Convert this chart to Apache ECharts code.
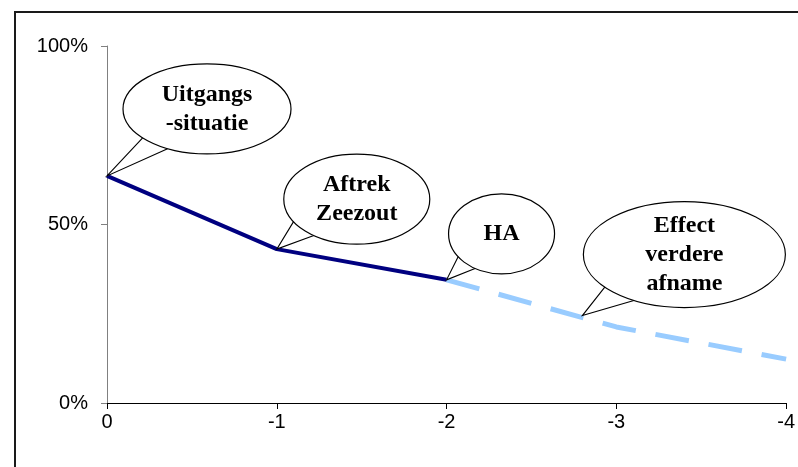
<!DOCTYPE html>
<html>
<head>
<meta charset="utf-8">
<script src="https://cdn.jsdelivr.net/npm/echarts@6/dist/echarts.min.js"></script>
<style>
  html, body { margin: 0; padding: 0; background: #fff; }
  #chart { width: 798px; height: 467px; }
</style>
</head>
<body>
<div id="chart"></div>
<script>
// Stap-categorieën op de x-as
const categories = ['0', '-1', '-2', '-3', '-4'];
// Gerealiseerd verloop (doorgetrokken lijn)
const realised = [0.636, 0.431, 0.345, null, null];
// Verwachte verdere afname (gestippelde lijn)
const projected = [null, null, 0.345, 0.213, 0.123];
// Ballonteksten met het punt waar het pijltje naar wijst (categorie-positie, waarde)
const calloutTexts = ['Uitgangs\n-situatie', 'Aftrek\nZeezout', 'HA', 'Effect\nverdere\nafname'];
const calloutTips = [[0, 0.636], [1, 0.431], [2, 0.345], [2.8, 0.245]];

const chart = echarts.init(document.getElementById('chart'));

chart.setOption({
  animation: false,
  backgroundColor: '#ffffff',
  grid: { left: 107, right: 9, top: 46, bottom: 64 },
  xAxis: {
    type: 'category',
    data: categories,
    boundaryGap: false,
    axisLine: { lineStyle: { color: '#000', width: 1 } },
    axisTick: { length: 6, lineStyle: { color: '#000' } },
    axisLabel: {
      margin: 9,
      color: '#000',
      fontFamily: 'Liberation Sans, Arial, sans-serif',
      fontSize: 20
    },
    splitLine: { show: false }
  },
  yAxis: {
    type: 'value',
    min: 0,
    max: 1,
    interval: 0.5,
    axisLine: { show: true, lineStyle: { color: '#808080', width: 1 } },
    axisTick: { show: true, length: 6, lineStyle: { color: '#808080' } },
    axisLabel: {
      margin: 19,
      color: '#000',
      fontFamily: 'Liberation Sans, Arial, sans-serif',
      fontSize: 20,
      formatter: v => Math.round(v * 100) + '%'
    },
    splitLine: { show: false }
  },
  series: [
    {
      type: 'line',
      data: realised,
      showSymbol: false,
      lineStyle: { color: '#000080', width: 4 },
      z: 3
    },
    {
      type: 'line',
      data: projected,
      showSymbol: false,
      lineStyle: { color: '#99ccff', width: 5, type: [34, 20] },
      z: 2
    }
  ]
});

// Ballonvorm: middelpunt t.o.v. de punt, stralen en hoeken van de aanhechting van het pijltje
const bubbleShapes = [
  { dx: 100, dy: -67, rx: 84, ry: 45, a1: 140, a2: 118 },
  { dx: 80, dy: -50, rx: 73, ry: 45, a1: 150, a2: 126 },
  { dx: 55, dy: -46, rx: 53, ry: 40, a1: 145, a2: 120 },
  { dx: 102, dy: -61, rx: 101, ry: 53, a1: 142, a2: 120 }
];

// Pixelpositie van een (mogelijk fractionele) categorie-positie
function tipPixel(d) {
  const i0 = Math.floor(d[0]);
  const f = d[0] - i0;
  const p0 = chart.convertToPixel({ gridIndex: 0 }, [i0, d[1]]);
  if (f === 0) return p0;
  const p1 = chart.convertToPixel({ gridIndex: 0 }, [i0 + 1, d[1]]);
  return [p0[0] + (p1[0] - p0[0]) * f, p0[1]];
}

function buildCallout(text, tipData, s) {
  const tip = tipPixel(tipData);
  const cx = tip[0] + s.dx, cy = tip[1] + s.dy;
  const onEllipse = deg => {
    const r = deg * Math.PI / 180;
    return [cx + s.rx * Math.cos(r), cy + s.ry * Math.sin(r)];
  };
  const b1 = onEllipse(s.a1), b2 = onEllipse(s.a2);
  const inner = [cx + (b1[0] + b2[0] - 2 * cx) * 0.7, cy + (b1[1] + b2[1] - 2 * cy) * 0.7];
  return {
    type: 'group',
    z: 50,
    children: [
      {
        type: 'ellipse',
        shape: { cx: cx, cy: cy, rx: s.rx, ry: s.ry },
        style: { fill: '#fff', stroke: '#000', lineWidth: 1.2 },
        z: 50
      },
      {
        type: 'polygon',
        shape: { points: [b1, tip, b2, inner] },
        style: { fill: '#fff', stroke: null },
        z: 51
      },
      {
        type: 'polyline',
        shape: { points: [b1, tip, b2] },
        style: { stroke: '#000', lineWidth: 1.1, fill: null },
        z: 52
      },
      {
        type: 'text',
        x: cx,
        y: cy,
        style: {
          text: text,
          fill: '#000',
          font: 'bold 24px "Liberation Serif", "Times New Roman", serif',
          lineHeight: 29,
          align: 'center',
          verticalAlign: 'middle'
        },
        z: 53
      }
    ]
  };
}

const graphics = calloutTexts.map((t, i) => buildCallout(t, calloutTips[i], bubbleShapes[i]));

// Kader links en boven
graphics.push({
  type: 'polyline',
  shape: { points: [[15, 467], [15, 12], [798, 12]] },
  style: { stroke: '#1a1a1a', lineWidth: 2, fill: null },
  z: 60
});

chart.setOption({ graphic: graphics });
</script>
</body>
</html>
